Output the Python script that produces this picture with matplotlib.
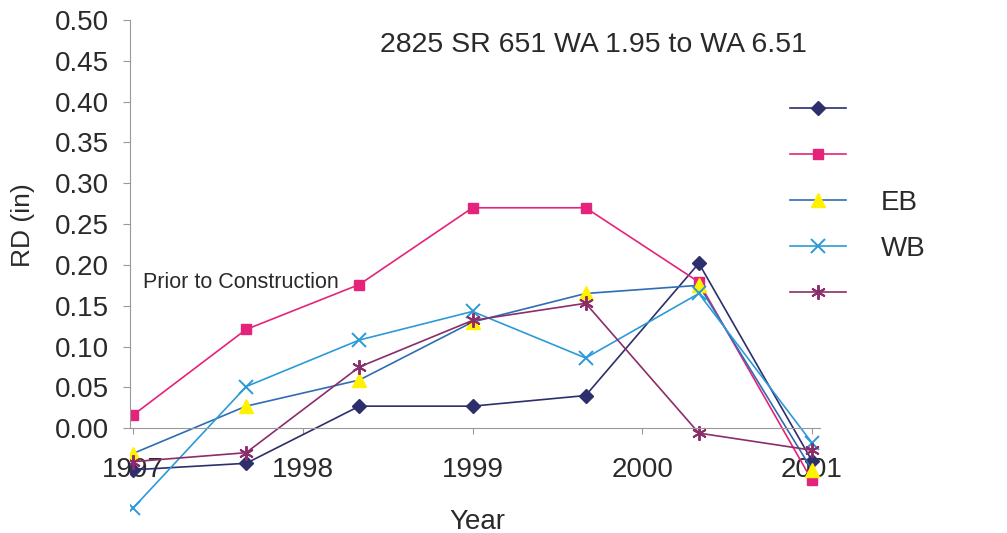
import matplotlib.pyplot as plt

# data
x_years = [1997, 1997 + 2/3, 1997 + 4/3, 1999, 1999 + 2/3, 1999 + 4/3, 2001]
s_diamond = [-0.051, -0.043, 0.027, 0.027, 0.040, 0.202, -0.040]
s_square = [0.016, 0.121, 0.176, 0.270, 0.270, 0.179, -0.064]
s_triangle = [-0.031, 0.027, 0.059, 0.130, 0.165, 0.175, -0.051]
s_cross = [-0.098, 0.051, 0.108, 0.143, 0.086, 0.165, -0.018]
s_star = [-0.041, -0.030, 0.075, 0.132, 0.153, -0.006, -0.027]
legend_labels = ['', '', 'EB', 'WB', '']
x_ticks = [1997, 1998, 1999, 2000, 2001]
y_ticks = [0.00, 0.05, 0.10, 0.15, 0.20, 0.25, 0.30, 0.35, 0.40, 0.45, 0.50]

plt.rcParams['font.family'] = ['Liberation Sans', 'DejaVu Sans']

fig = plt.figure(figsize=(10.07, 5.33), dpi=100)
ax = fig.add_axes([130/1007, 1 - 518/533, 690/1007, 498/533])

lw = 1.2
h1, = ax.plot(x_years, s_diamond, color='#2C2F6B', lw=lw, marker='D', ms=7.5, mfc='#2C2F6B', mec='#2C2F6B')
h2, = ax.plot(x_years, s_square, color='#E6237A', lw=lw, marker='s', ms=7.5, mfc='#E6237A', mec='#E6237A')
h3, = ax.plot(x_years, s_triangle, color='#2E6DB4', lw=lw, marker='^', ms=9.5, mfc='#FFF200', mec='#FFF200')
h4, = ax.plot(x_years, s_cross, color='#2D9AD8', lw=lw, marker='x', ms=9.5, mew=1.4, mec='#2D9AD8')
h5, = ax.plot(x_years, s_star, color='#8B2D6B', lw=lw, marker=(6, 2, 0), ms=10.5, mew=1.4, mec='#8B2D6B')

ax.set_xlim(1997 - 3/170, 2001 + 8/170)
ax.set_ylim(-0.11, 0.5)

# axes styling like the old spreadsheet chart
for side in ['top', 'right']:
    ax.spines[side].set_visible(False)
ax.spines['bottom'].set_position(('data', 0))
ax.spines['bottom'].set_color('#999999')
ax.spines['left'].set_color('#999999')
ax.spines['left'].set_bounds(0, 0.5)
ax.spines['bottom'].set_linewidth(0.8)
ax.spines['left'].set_linewidth(0.8)

ax.set_xticks(x_ticks)
ax.set_xticklabels([str(t) for t in x_ticks])
ax.set_yticks(y_ticks)
ax.set_yticklabels(['%.2f' % t for t in y_ticks])
ax.tick_params(axis='y', colors='#999999', labelcolor='#2a2a2a', labelsize=20, length=5, pad=10)
ax.tick_params(axis='x', colors='#999999', labelcolor='#2a2a2a', labelsize=20, length=4, pad=17)

ax.set_ylabel('RD (in)', fontsize=19, color='#2a2a2a')
ax.yaxis.set_label_coords(-0.137, 0.588)
ax.set_xlabel('Year', fontsize=20, color='#2a2a2a')
ax.xaxis.set_label_coords(0.504, 0.018)

ax.text(0.672, 0.949, '2825 SR 651 WA 1.95 to WA 6.51', transform=ax.transAxes,
        fontsize=20.5, ha='center', va='center', color='#2a2a2a')
ax.text(1997 + 10/170, 0.178, 'Prior to Construction', fontsize=15.5, ha='left', va='center', color='#2a2a2a')

leg = fig.legend([h1, h2, h3, h4, h5], legend_labels, loc='upper left',
                 bbox_to_anchor=(765/1007, 1 - 73/533), frameon=False, fontsize=20,
                 handlelength=2.0, handletextpad=1.26, labelspacing=0.715)
for t in leg.get_texts():
    t.set_color('#2a2a2a')

fig.savefig('out.png', dpi=100, facecolor='white')
